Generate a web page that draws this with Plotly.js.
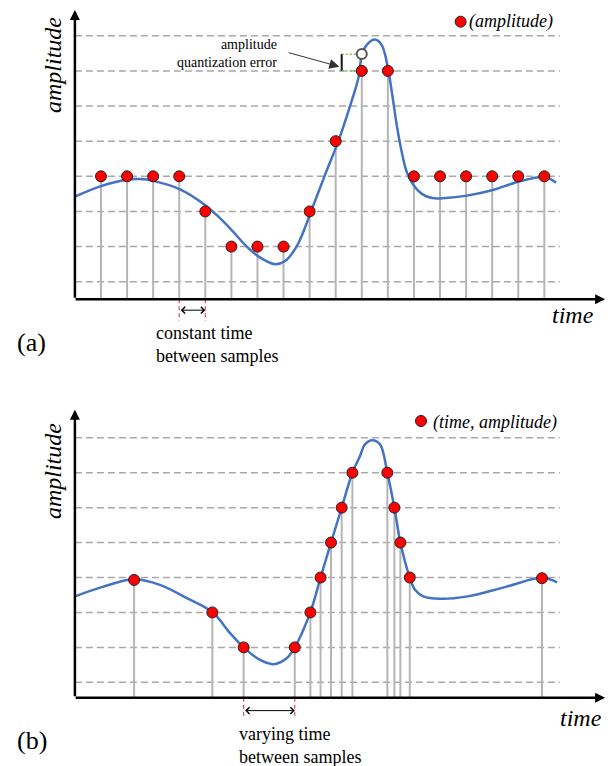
<!DOCTYPE html>
<html><head><meta charset="utf-8">
<script src="https://cdn.plot.ly/plotly-3.0.1.min.js"></script>
<style>html,body{margin:0;padding:0;background:#fff;}#chart{width:608px;height:766px;}</style>
</head><body><div id="chart"></div>
<script>
// ---- data ----
const levels = [1, 2, 3, 4, 5, 6, 7, 8];

// (a) uniform sampling
const sampleTimesA = [1, 2, 3, 4, 5, 6, 7, 8, 9, 10, 11, 12, 13, 14, 15, 16, 17, 18];
const sampleAmpA   = [4, 4, 4, 4, 3, 2, 2, 2, 3, 5, 7, 7, 4, 4, 4, 4, 4, 4];
const curveTimeA = [0, 1.0, 2.04, 2.5, 3.0, 4.03, 4.96, 5.5, 6.01, 6.59, 7.06, 7.67, 8.06, 8.5, 8.86, 9.04, 9.59, 10.09, 10.55, 10.87, 11.01, 11.19, 11.5, 11.76, 11.98, 12.15, 12.34, 12.53, 12.72, 12.98, 13.3, 13.7, 14.2, 15.03, 16.03, 17.03, 18.0, 18.45];
const curveAmpA  = [3.42, 3.72, 3.91, 3.92, 3.87, 3.63, 3.20, 2.85, 2.47, 2.0, 1.71, 1.50, 1.59, 2.0, 2.61, 2.97, 4.04, 4.98, 6.0, 6.8, 7.47, 7.74, 7.89, 7.74, 7.17, 6.41, 5.46, 4.70, 4.13, 3.75, 3.5, 3.38, 3.38, 3.45, 3.61, 3.85, 3.98, 3.82];
const trueTimeA = [11];
const trueAmpA  = [7.48];
const quantAmpA = [7];

// (b) level-crossing sampling
const sampleTimesB = [2.27, 5.27, 6.47, 8.43, 9.03, 9.42, 9.82, 10.23, 10.64, 11.98, 12.25, 12.48, 12.84, 17.91];
const sampleAmpB   = [3.93, 3, 2, 2, 3, 4, 5, 6, 7, 7, 6, 5, 4, 3.98];
const curveTimeB = [0, 1.09, 2.27, 3.26, 4.29, 5.27, 5.95, 6.47, 7.1, 7.61, 8.12, 8.43, 9.03, 9.42, 9.82, 10.23, 10.64, 10.93, 11.12, 11.40, 11.7, 11.98, 12.25, 12.48, 12.84, 13.04, 13.36, 14.0, 15.06, 16.55, 17.91, 18.49];
const curveAmpB  = [3.46, 3.74, 3.95, 3.79, 3.41, 3.01, 2.41, 2.0, 1.64, 1.52, 1.69, 2.0, 3.01, 4.0, 5.0, 6.0, 7.0, 7.47, 7.81, 7.93, 7.81, 7.0, 6.0, 5.0, 4.0, 3.65, 3.46, 3.39, 3.46, 3.74, 3.99, 3.86];

// ---- styling / geometry ----
const baseA = 0.5, baseB = 0.56;
const gridEnd = 18.6;
const serif = 'Liberation Serif';

function stems(ts, as, base) {
  const x = [], y = [];
  ts.forEach((t, i) => { x.push(t, t, null); y.push(base, as[i], null); });
  return {x, y};
}

const traces = [];
function panel(xa, ya, ts, as, ct, ca, base) {
  const s = stems(ts, as, base);
  traces.push({type:'scatter', mode:'lines', x:s.x, y:s.y, xaxis:xa, yaxis:ya,
    line:{color:'#b5b5b5', width:2}, hoverinfo:'skip'});
  traces.push({type:'scatter', mode:'lines', x:ct, y:ca, xaxis:xa, yaxis:ya,
    line:{color:'#4472c4', width:2.5, shape:'spline', smoothing:1}, hoverinfo:'skip'});
  traces.push({type:'scatter', mode:'markers', x:ts, y:as, xaxis:xa, yaxis:ya,
    marker:{color:'#ff0000', size:11, line:{color:'#222', width:1}}, cliponaxis:false});
}
panel('x', 'y', sampleTimesA, sampleAmpA, curveTimeA, curveAmpA, baseA);
panel('x2', 'y2', sampleTimesB, sampleAmpB, curveTimeB, curveAmpB, baseB);
traces.push({type:'scatter', mode:'markers', x:trueTimeA, y:trueAmpA, xaxis:'x', yaxis:'y',
  marker:{color:'#ffffff', size:10, line:{color:'#555', width:2}}});

const shapes = [];
[['x','y'],['x2','y2']].forEach(([xa, ya]) => {
  levels.forEach(l => shapes.push({type:'line', xref:xa, yref:ya, x0:0, x1:gridEnd, y0:l, y1:l,
    layer:'below', line:{color:'#a8a8a8', width:1.5, dash:'7px,4px'}}));
});
// red dashed time markers
[[sampleTimesA[3], 'x', 'y', baseA, -0.11], [sampleTimesA[4], 'x', 'y', baseA, -0.11],
 [sampleTimesB[2], 'x2', 'y2', baseB, -0.03], [sampleTimesB[3], 'x2', 'y2', baseB, -0.03]].forEach(([t, xa, ya, b0, b1]) => {
  shapes.push({type:'line', xref:xa, yref:ya, x0:t, x1:t, y0:b0, y1:b1,
    line:{color:'#e04848', width:1.2, dash:'4px,3px'}});
});
// quantization error bracket
const brX = 10.23;
shapes.push({type:'line', xref:'x', yref:'y', x0:brX, x1:brX, y0:quantAmpA[0], y1:trueAmpA[0], line:{color:'#111', width:2}});
[trueAmpA[0], quantAmpA[0]].forEach(v => shapes.push({type:'line', xref:'x', yref:'y', x0:brX, x1:10.85, y0:v, y1:v,
  line:{color:'#6fb040', width:1.3, dash:'2px,2px'}}));
// legend dots
function dot(cx, cy) {
  shapes.push({type:'circle', xref:'paper', yref:'paper', x0:(cx-5.5)/608, x1:(cx+5.5)/608,
    y0:1-(cy+5.5)/766, y1:1-(cy-5.5)/766, fillcolor:'#ff0000', line:{color:'#222', width:1}});
}
dot(460.6, 21.7);
dot(421, 421);

const ann = [];
function axisArrows(xa, ya, base, yTop) {
  ann.push({xref:xa, yref:ya, axref:xa, ayref:ya, x:20.33, y:base, ax:-0.03, ay:base, text:'',
    showarrow:true, arrowhead:2, arrowsize:0.8, arrowwidth:2.5, arrowcolor:'#000'});
  ann.push({xref:xa, yref:ya, axref:xa, ayref:ya, x:0, y:yTop, ax:0, ay:base, text:'',
    showarrow:true, arrowhead:2, arrowsize:0.8, arrowwidth:2.5, arrowcolor:'#000'});
}
axisArrows('x', 'y', baseA, 8.73);
axisArrows('x2', 'y2', baseB, 8.8);
// interval arrows
ann.push({xref:'x', yref:'y', axref:'x', ayref:'y', x:sampleTimesA[4], y:0.19, ax:sampleTimesA[3], ay:0.19, text:'',
  showarrow:true, arrowside:'end+start', arrowhead:4, startarrowhead:4, arrowsize:1.3, startarrowsize:1.3, arrowwidth:1, arrowcolor:'#000'});
ann.push({xref:'x2', yref:'y2', axref:'x2', ayref:'y2', x:sampleTimesB[3], y:0.19, ax:sampleTimesB[2], ay:0.19, text:'',
  showarrow:true, arrowside:'end+start', arrowhead:4, startarrowhead:4, arrowsize:1.3, startarrowsize:1.3, arrowwidth:1, arrowcolor:'#000'});
// quantization arrow
ann.push({xref:'x', yref:'y', axref:'x', ayref:'y', x:10.14, y:7.12, ax:8.14, ay:7.53, text:'',
  showarrow:true, arrowhead:2, arrowsize:2, arrowwidth:1, arrowcolor:'#333'});

function txt(px, py, text, size, opts) {
  ann.push(Object.assign({xref:'paper', yref:'paper', x:px/608, y:1-py/766, text:text, showarrow:false,
    xanchor:'center', yanchor:'middle', font:{family:serif, size:size, color:'#000'}}, opts || {}));
}
txt(53, 65, '<i>amplitude</i>', 24, {textangle:-90});
txt(572.5, 315, '<i>time</i>', 24);
txt(31, 343, '(a)', 26);
txt(154, 344, 'constant time<br>between samples', 18, {xanchor:'left', align:'left'});
txt(279, 53.5, 'amplitude<br>quantization error', 14, {xanchor:'right', align:'right'});
txt(467, 21.7, '<i>(amplitude)</i>', 18, {xanchor:'left'});

txt(52.6, 471.5, '<i>amplitude</i>', 24, {textangle:-90});
txt(580.6, 718, '<i>time</i>', 24);
txt(32, 740, '(b)', 26);
txt(237, 745.8, 'varying time<br>between samples', 18, {xanchor:'left', align:'left'});
txt(431, 422.3, '<i>(time, amplitude)</i>', 18, {xanchor:'left'});

const xdom = [74.9/608, (74.9 + 20.4*26.08)/608];
const layout = {
  width:608, height:766, margin:{l:0, r:0, t:0, b:0}, showlegend:false,
  font:{family:serif},
  paper_bgcolor:'#fff', plot_bgcolor:'#fff',
  xaxis:{domain:xdom, range:[0, 20.4], visible:false, anchor:'y', fixedrange:true},
  yaxis:{domain:[1-327.4/766, 1-9.4/766], range:[-0.3, 8.75], visible:false, anchor:'x', fixedrange:true},
  xaxis2:{domain:xdom, range:[0, 20.4], visible:false, anchor:'y2', fixedrange:true},
  yaxis2:{domain:[1-722.5/766, 1-409.8/766], range:[-0.15, 8.8], visible:false, anchor:'x2', fixedrange:true},
  shapes:shapes, annotations:ann
};
Plotly.newPlot('chart', traces, layout, {staticPlot:true, displayModeBar:false});
</script></body></html>
